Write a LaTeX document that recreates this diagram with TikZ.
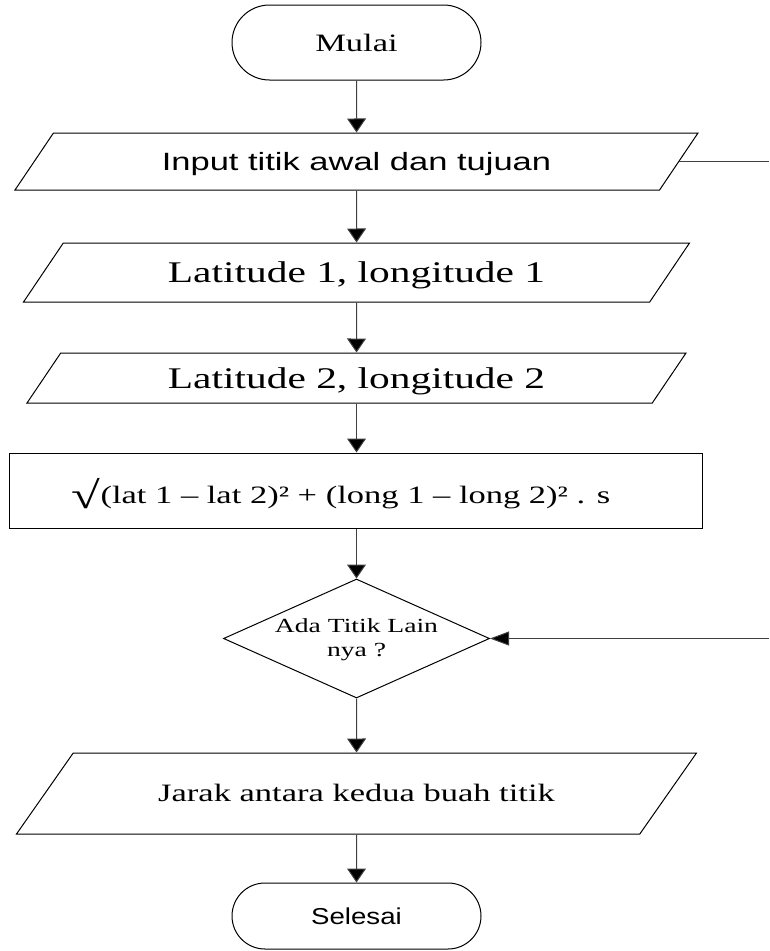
\documentclass[tikz,border=0pt]{standalone}
\usepackage{fontspec}
\setmainfont{Liberation Serif}
\newfontfamily\arialf{Liberation Sans}
\usepackage{graphicx}
\usetikzlibrary{arrows.meta,shapes.misc,shapes.geometric}
\newcommand{\sx}[1]{\scalebox{1.38}[1]{#1}}
\begin{document}
\begin{tikzpicture}[x=1pt,y=-1pt,
  shapeline/.style={draw=black,line width=1pt},
  conn/.style={draw=black!75,line width=1pt},
  vtip/.style={-{Triangle[width=19pt,length=14pt,fill=black]}},
  htip/.style={-{Triangle[width=14pt,length=19pt,fill=black]}},
  lbl/.style={inner sep=0pt,text=black},
  term/.style={rounded rectangle,shapeline,minimum width=249pt,inner sep=0pt},
  para/.style={trapezium,trapezium left angle=56,trapezium right angle=124,
    trapezium stretches body=true,shapeline,inner sep=0pt},
]
\useasboundingbox (0,0) rectangle (769,951);

% nodes
\node[term,minimum height=75pt] (mulai) at (356.5,42.5)
  {\fontsize{25}{30}\selectfont\sx{Mulai}};

\node[para,minimum width=683pt,text height=28.5pt,text depth=28.5pt] (input) at (356.5,161.5)
  {\arialf\fontsize{25}{30}\selectfont\raisebox{-9pt}{\sx{Input titik awal dan tujuan}}};

\node[para,minimum width=666pt,text height=29.5pt,text depth=29.5pt] (lat1) at (356.5,272.5)
  {\fontsize{30}{36}\selectfont\raisebox{-10pt}{\sx{Latitude 1, longitude 1}}};

\node[para,minimum width=659pt,text height=25pt,text depth=25pt] (lat2) at (356.5,378)
  {\fontsize{30}{36}\selectfont\raisebox{-10pt}{\sx{Latitude 2, longitude 2}}};

\node[rectangle,shapeline,minimum width=693pt,minimum height=75pt,inner sep=0pt] (calc) at (356,490.5) {};
\node[lbl] (formula) at (341,494)
  {\fontsize{25}{30}\selectfont\sx{{\fontsize{38}{38}\selectfont\raisebox{-5pt}{\textbf{√}}}(lat 1 – lat 2)² + (long 1 – long 2)² . s}};

\node[diamond,shapeline,minimum width=266pt,minimum height=119pt,inner sep=0pt] (dec) at (356.5,638.5) {};
\node[lbl,align=center,font=\fontsize{20}{24}\selectfont] (dectext) at (356.5,640)
  {\sx{Ada Titik Lain}\\\sx{nya ?}};

\node[para,trapezium left angle=55,trapezium right angle=125,minimum width=680pt,
  text height=40.5pt,text depth=40.5pt] (jarak) at (356.5,793.5)
  {\fontsize{25}{30}\selectfont\raisebox{-8pt}{\sx{Jarak antara kedua buah titik}}};

\node[term,minimum height=66pt] (selesai) at (356.5,916)
  {\arialf\fontsize{23}{28}\selectfont\scalebox{1.2}[1]{Selesai}};

\coordinate (loopA) at (769,161.5);
\coordinate (loopB) at (769,638.5);

% connectors
\draw[conn,vtip] (mulai.south) -- (input.north);
\draw[conn,vtip] (input.south) -- (lat1.north);
\draw[conn,vtip] (lat1.south) -- (lat2.north);
\draw[conn,vtip] (lat2.south) -- (lat2.south |- calc.north);
\draw[conn,vtip] (dec.north |- calc.south) -- (dec.north);
\draw[conn,vtip] (dec.south) -- (jarak.north);
\draw[conn,vtip] (jarak.south) -- (selesai.north);
\draw[conn] (input.east) -- (loopA);
\draw[conn,htip] (loopB) -- (dec.east);
\end{tikzpicture}
\end{document}
